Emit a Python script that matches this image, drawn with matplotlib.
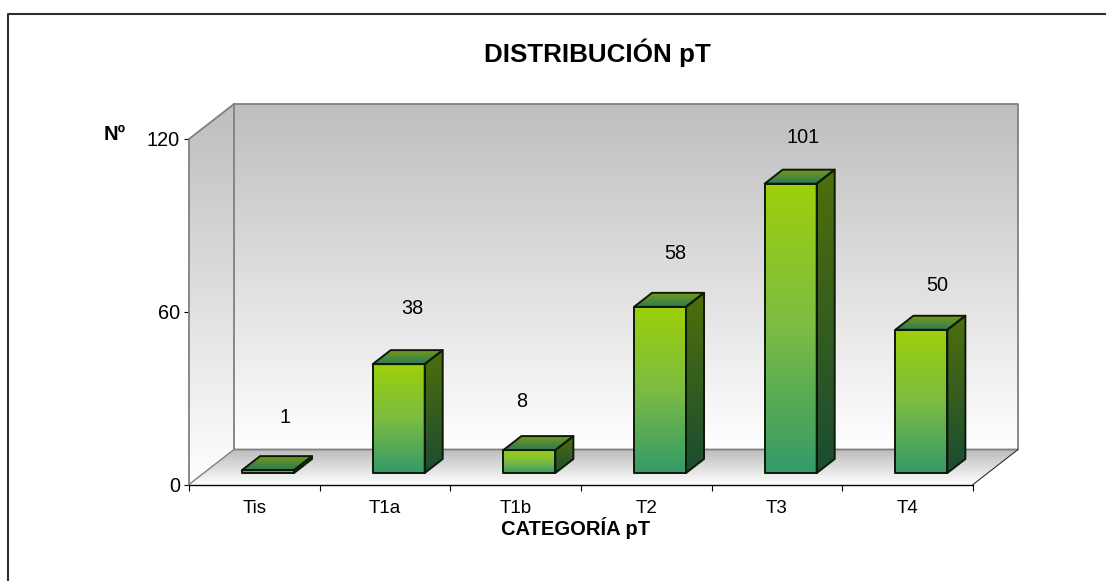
import numpy as np
import matplotlib
matplotlib.use('Agg')
import matplotlib.pyplot as plt
from matplotlib.colors import LinearSegmentedColormap
from matplotlib.patches import Polygon

plt.rcParams['font.family'] = ['Liberation Sans', 'DejaVu Sans']

categories = ['Tis', 'T1a', 'T1b', 'T2', 'T3', 'T4']
values = [1, 38, 8, 58, 101, 50]
y_ticks = [0, 60, 120]

W, H = 1106, 581
fig = plt.figure(figsize=(W / 100, H / 100), dpi=100)
# axes = the front plane of the fake 3d box, pixel box
left, right, top, bottom = 189, 973, 139, 484.5
ax = fig.add_axes([left / W, 1 - bottom / H, (right - left) / W, (bottom - top) / H])
ax.patch.set_visible(False)

px_x = 6 / (right - left)
px_y = 120 / (bottom - top)

def gradient(poly, colors, zorder):
    # vertical gradient clipped to a polygon
    poly = np.array(poly)
    cmap = LinearSegmentedColormap.from_list('g', colors)
    g = np.linspace(0, 1, 256).reshape(-1, 1)
    im = ax.imshow(g, cmap=cmap, aspect='auto', zorder=zorder, interpolation='bilinear',
                   extent=[poly[:, 0].min(), poly[:, 0].max(), poly[:, 1].min(), poly[:, 1].max()])
    p = Polygon(poly, closed=True, transform=ax.transData, fc='none', ec='none', clip_on=False)
    ax.add_patch(p)
    # images get cut to the axes box unless the clip box is the whole figure
    im.set_clip_box(fig.bbox)
    im.set_clip_path(p)

# walls
wx, wy = 45 * px_x, 35 * px_y
wall_grey = '#808080'
gradient([(wx, wy), (6 + wx, wy), (6 + wx, 120 + wy), (wx, 120 + wy)], ['#bebebe', '#ffffff'], 1)
gradient([(0, 0), (wx, wy), (wx, 120 + wy), (0, 120)], ['#bebebe', '#ffffff'], 1)
gradient([(0, 0), (6, 0), (6 + wx, wy), (wx, wy)], ['#bdbdbd', '#ffffff'], 1)
ax.plot([0, wx, 6 + wx, 6 + wx, wx, wx], [120, 120 + wy, 120 + wy, wy, wy, 120 + wy],
        color=wall_grey, lw=1.3, zorder=2, clip_on=False)
ax.plot([0, wx], [0, wy], color=wall_grey, lw=1.0, zorder=2, clip_on=False)
ax.plot([6, 6 + wx], [0, wy], color='#303030', lw=0.8, zorder=2, clip_on=False)

# bars
bar_w = 52 * px_x
shift_x = 13.7 * px_x
base = 11.5 * px_y
dx, dy = 18 * px_x, 14 * px_y
bar_scale = 0.995
edge = '#0c1a08'
for i, v in enumerate(values):
    x0 = i + 0.5 - bar_w / 2 + shift_x
    x1 = x0 + bar_w
    b = base
    t = base + v * bar_scale
    z = 5 + i
    gradient([(x1, b), (x1 + dx, b + dy), (x1 + dx, t + dy), (x1, t)], ['#4f6f0a', '#1b4c33'], z)
    gradient([(x0, t), (x1, t), (x1 + dx, t + dy), (x0 + dx, t + dy)], ['#77991a', '#2a7a58'], z)
    gradient([(x0, b), (x1, b), (x1, t), (x0, t)], ['#9dd00a', '#7cbc42', '#349a69'], z)
    for poly in ([(x0, b), (x1, b), (x1, t), (x0, t)],
                 [(x1, b), (x1 + dx, b + dy), (x1 + dx, t + dy), (x1, t)],
                 [(x0, t), (x1, t), (x1 + dx, t + dy), (x0 + dx, t + dy)]):
        ax.add_patch(Polygon(poly, closed=True, fc='none', ec=edge, lw=1.4, zorder=z + 0.5,
                             joinstyle='round', clip_on=False))

# value labels, nudged per bar in px as in the reference
nudge_x = [17, 14, -8, 15, 12, 16]
lift = [53, 56, 49, 53, 46, 44]
for i, v in enumerate(values):
    ax.annotate(str(v), xy=(i + 0.5 + shift_x, base + v * bar_scale),
                xytext=(nudge_x[i] * 0.72, lift[i] * 0.72), textcoords='offset points',
                ha='center', va='center', fontsize=14.3, color='black', zorder=20)

ax.set_xlim(0, 6)
ax.set_ylim(0, 120)
for s in ['top', 'right']:
    ax.spines[s].set_visible(False)
ax.spines['left'].set_color(wall_grey)
ax.spines['left'].set_linewidth(1.3)
ax.spines['bottom'].set_color('black')
ax.spines['bottom'].set_linewidth(1.0)
ax.set_xticks(range(7))
ax.set_xticklabels([])
ax.set_xticks(np.arange(6) + 0.5, labels=categories, minor=True)
ax.tick_params(axis='x', which='major', length=4, width=0.8, color='black')
ax.tick_params(axis='x', which='minor', length=0, pad=11, labelsize=13.5)
ax.set_yticks(y_ticks)
ax.tick_params(axis='y', length=3.5, width=0.8, color='black', labelsize=14.3, pad=3)

fig.text(597.5 / W, 1 - 53 / H, 'DISTRIBUCIÓN pT', ha='center', va='center', fontsize=18.7, fontweight='bold')
fig.text(576 / W, 1 - 528 / H, 'CATEGORÍA pT', ha='center', va='center', fontsize=14.5, fontweight='bold')
fig.text(114.5 / W, 1 - 134 / H, 'Nº', ha='center', va='center', fontsize=14.5, fontweight='bold')

# chart frame: only left and top edges reach into the picture
fig.add_artist(plt.Line2D([8 / W, 8 / W, 1], [0, 1 - 13.5 / H, 1 - 13.5 / H], transform=fig.transFigure,
                          color='#303030', lw=1.5))

fig.savefig('out.png', dpi=100)
